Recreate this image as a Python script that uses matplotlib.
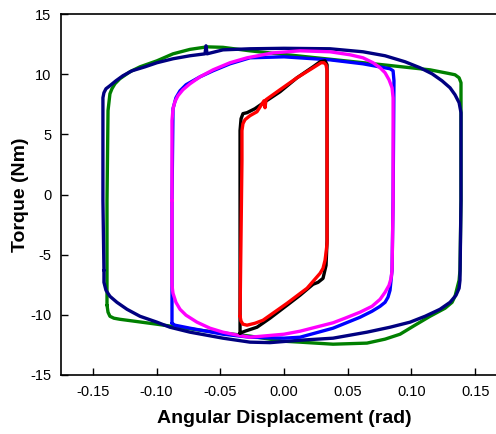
import matplotlib
matplotlib.use("Agg")
import matplotlib.pyplot as plt

plt.rcParams['font.family'] = ['Liberation Sans', 'DejaVu Sans']
plt.rcParams['axes.unicode_minus'] = False

# hysteresis loops, angular displacement (rad) vs torque (Nm)
navy_x = [-0.1413, -0.1421, -0.1421, -0.1413, -0.1397, -0.1366, -0.1319, -0.1264, -0.1193,
          -0.1091, -0.0997, -0.0871, -0.0738, -0.0620, -0.0612, -0.0604, -0.0479, -0.0267,
          0.0000, 0.0361, 0.0620, 0.0793, 0.0950, 0.1068, 0.1162, 0.1240, 0.1303, 0.1342,
          0.1374, 0.1389, 0.1389, 0.1381, 0.1374, 0.1350, 0.1303, 0.1224, 0.1107, 0.0989,
          0.0832, 0.0651, 0.0385, 0.0126, -0.0110, -0.0267, -0.0479, -0.0738, -0.0895,
          -0.0997, -0.1130, -0.1232, -0.1311, -0.1366, -0.1397, -0.1413, -0.1413]
navy_y = [-6.30, -0.50, 8.04, 8.46, 8.79, 9.04, 9.45, 9.87, 10.28,
          10.61, 10.95, 11.28, 11.53, 11.69, 12.36, 11.69, 12.02, 12.11,
          12.15, 12.11, 11.86, 11.53, 11.03, 10.53, 10.03, 9.45, 8.87, 8.29,
          7.63, 6.80, -0.50, -7.13, -7.79, -8.37, -8.96, -9.54, -10.12, -10.61,
          -11.03, -11.44, -11.94, -12.11, -12.31, -12.27, -11.94, -11.44, -11.03,
          -10.61, -10.12, -9.54, -8.96, -8.46, -7.96, -7.30, -6.30]

green_x = [-0.1389, -0.1381, -0.1366, -0.1335, -0.1288, -0.0997, -0.0659, -0.0267, -0.0008,
           0.0126, 0.0385, 0.0651, 0.0793, 0.0911, 0.1028, 0.1146, 0.1264, 0.1319, 0.1342,
           0.1358, 0.1374, 0.1381, 0.1389, 0.1389, 0.1389, 0.1374, 0.1342, 0.1287, 0.1146,
           0.0777, 0.0361, 0.0000, -0.0267, -0.0479, -0.0604, -0.0738, -0.0871, -0.0997,
           -0.1130, -0.1209, -0.1288, -0.1327, -0.1350, -0.1366, -0.1381, -0.1389, -0.1389]
green_y = [-9.20, -9.78, -10.12, -10.28, -10.37, -10.78, -11.28, -11.77, -12.19,
           -12.27, -12.44, -12.35, -12.02, -11.61, -10.86, -10.12, -9.45, -8.96, -8.46,
           -7.79, -7.13, -6.30, -0.50, 8.62, 9.29, 9.70, 9.95, 10.07, 10.36,
           10.78, 11.24, 11.64, 11.94, 12.23, 12.27, 12.06, 11.69, 11.11,
           10.61, 10.20, 9.62, 9.20, 8.79, 8.37, 6.97, -0.50, -9.20]

blue_x = [-0.0879, -0.0856, -0.0738, -0.0479, -0.0267, 0.0000, 0.0126, 0.0385, 0.0597,
          0.0691, 0.0754, 0.0793, 0.0816, 0.0832, 0.0840, 0.0848, 0.0856, 0.0863, 0.0856,
          0.0832, 0.0620, 0.0361, 0.0000, -0.0267, -0.0424, -0.0557, -0.0659, -0.0769,
          -0.0816, -0.0848, -0.0871, -0.0879, -0.0879]
blue_y = [-10.70, -10.86, -11.11, -11.61, -11.86, -11.94, -11.86, -11.11, -10.20,
          -9.70, -9.29, -8.96, -8.54, -7.96, -7.13, -6.30, -0.50, 9.45, 10.28,
          10.45, 10.86, 11.19, 11.44, 11.36, 10.86, 10.28, 9.78, 9.12,
          8.62, 8.04, 7.13, -0.50, -10.70]

magenta_x = [-0.0879, -0.0879, -0.0871, -0.0856, -0.0832, -0.0793, -0.0738, -0.0659, -0.0557,
             -0.0424, -0.0290, -0.0086, 0.0126, 0.0361, 0.0518, 0.0620, 0.0699, 0.0754,
             0.0793, 0.0824, 0.0848, 0.0856, 0.0856, 0.0856, 0.0848, 0.0840, 0.0824, 0.0793,
             0.0754, 0.0691, 0.0597, 0.0479, 0.0385, 0.0126, 0.0000, -0.0267, -0.0345,
             -0.0479, -0.0581, -0.0683, -0.0769, -0.0816, -0.0848, -0.0871, -0.0879, -0.0879]
magenta_y = [-0.50, 6.14, 7.13, 7.71, 8.21, 8.71, 9.20, 9.78, 10.36,
             10.95, 11.36, 11.77, 11.94, 11.86, 11.61, 11.36, 10.95, 10.53,
             10.12, 9.54, 8.87, 8.04, 6.97, -0.50, -6.30, -6.97, -7.55, -8.13,
             -8.71, -9.29, -9.78, -10.28, -10.66, -11.36, -11.61, -11.86, -11.73,
             -11.44, -11.11, -10.61, -10.03, -9.54, -8.96, -8.21, -7.55, -0.50]

black_x = [-0.0345, -0.0306, -0.0212, -0.0110, 0.0024, 0.0126, 0.0228, 0.0267, 0.0306,
           0.0330, 0.0338, 0.0338, 0.0338, 0.0322, 0.0283, 0.0228, 0.0102, -0.0031,
           -0.0149, -0.0228, -0.0290, -0.0322, -0.0337, -0.0345, -0.0345]
black_y = [-11.53, -11.36, -11.03, -10.28, -9.20, -8.37, -7.46, -7.30, -6.97,
           -5.89, -3.81, 7.79, 10.78, 11.11, 11.03, 10.61, 9.70, 8.54,
           7.71, 7.13, 6.80, 6.72, 6.30, 5.31, -11.53]

red_x = [-0.0345, -0.0337, -0.0322, -0.0290, -0.0228, -0.0165, 0.0024, 0.0181, 0.0283,
         0.0306, 0.0322, 0.0330, 0.0338, 0.0338, 0.0338, 0.0330, 0.0314, 0.0291, 0.0228,
         0.0102, -0.0031, -0.0141, -0.0149, -0.0157, -0.0212, -0.0267, -0.0306, -0.0322,
         -0.0330, -0.0330, -0.0345]
red_y = [-10.12, -10.53, -10.78, -10.86, -10.70, -10.45, -9.04, -7.79, -6.55,
         -6.14, -5.47, -4.81, -4.06, 7.79, 10.28, 10.78, 10.95, 10.95, 10.53,
         9.70, 8.71, 7.88, 7.21, 7.79, 6.88, 6.55, 6.22, 5.89,
         5.31, 2.82, -10.12]

x_ticks = [-0.15, -0.10, -0.05, 0.00, 0.05, 0.10, 0.15]
y_ticks = [-15, -10, -5, 0, 5, 10, 15]

fig = plt.figure(figsize=(4.96, 4.34), dpi=100)
# right spine sits just past the figure edge
ax = fig.add_axes([61/496, 59/434, 446/496, 361/434])

loops = [(green_x, green_y, '#008000'),
         (navy_x, navy_y, '#000080'),
         (blue_x, blue_y, '#0000ff'),
         (magenta_x, magenta_y, '#ff00ff'),
         (black_x, black_y, '#000000'),
         (red_x, red_y, '#ff0000')]
for xs, ys, c in loops:
    ax.plot(xs, ys, color=c, lw=2.4, solid_joinstyle='round', solid_capstyle='round')

ax.set_xlim(-0.175, 0.175)
ax.set_ylim(-15, 15)
ax.set_xticks(x_ticks)
ax.set_xticklabels(['%.2f' % v for v in x_ticks])
ax.set_yticks(y_ticks)
ax.tick_params(direction='in', length=5, width=1, labelsize=10.5, pad=7)
for s in ax.spines.values():
    s.set_linewidth(1.2)

ax.set_xlabel('Angular Displacement (rad)', fontsize=14, fontweight='bold', labelpad=8)
ax.set_ylabel('Torque (Nm)', fontsize=14, fontweight='bold', labelpad=1)

plt.savefig('out.png', dpi=100)
